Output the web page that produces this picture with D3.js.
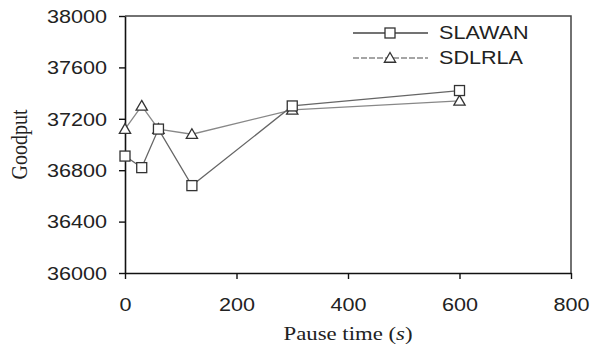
<!DOCTYPE html>
<html>
<head>
<meta charset="utf-8">
<script src="https://cdn.jsdelivr.net/npm/d3@7"></script>
<style>
  body { margin: 0; background: #fff; }
  svg { display: block; }
</style>
</head>
<body>
<div id="chart"></div>
<script>
// data
const pauseTimes = [0, 30, 60, 120, 300, 600];
const slawan = [36910, 36820, 37120, 36680, 37300, 37420];
const sdlrla = [37120, 37300, 37120, 37080, 37270, 37340];
const xTicks = [0, 200, 400, 600, 800];
const yTicks = [36000, 36400, 36800, 37200, 37600, 38000];
const seriesNames = ['SLAWAN', 'SDLRLA'];

const W = 597, H = 347;
const margin = { top: 16, right: 26, bottom: 74, left: 125 };
const width = W - margin.left - margin.right;
const height = H - margin.top - margin.bottom;
const sx = 1.2; // the reference text is stretched sideways

const svg = d3.select('#chart').append('svg')
  .attr('width', W)
  .attr('height', H);

const g = svg.append('g')
  .attr('transform', 'translate(' + margin.left + ',' + margin.top + ')');

const x = d3.scaleLinear().domain([0, 800]).range([0, width]);
const y = d3.scaleLinear().domain([36000, 38000]).range([height, 0]);

// frame on top and right
g.append('path')
  .attr('d', 'M0,0H' + width + 'V' + height)
  .attr('fill', 'none')
  .attr('stroke', '#444')
  .attr('stroke-width', 1.5);

// X axis
const xAxis = g.append('g')
  .attr('transform', 'translate(0,' + height + ')')
  .call(d3.axisBottom(x).tickValues(xTicks).tickFormat(d3.format('d')).tickSize(6).tickSizeOuter(0));
xAxis.selectAll('text')
  .attr('y', 0)
  .attr('dy', 0)
  .attr('transform', 'translate(0,38) scale(' + sx + ',1)');

// Y axis
const yAxis = g.append('g')
  .call(d3.axisLeft(y).tickValues(yTicks).tickFormat(d3.format('d')).tickSize(6).tickSizeOuter(0));
yAxis.selectAll('text')
  .attr('x', 0)
  .attr('dy', '0.35em')
  .attr('transform', 'translate(-18,0) scale(' + sx + ',1)');

[xAxis, yAxis].forEach(a => {
  a.select('.domain').attr('stroke', '#111').attr('stroke-width', 1.6);
  a.selectAll('line').attr('stroke', '#111').attr('stroke-width', 1.4);
  a.selectAll('text')
    .attr('fill', '#222')
    .style('font-family', '"Liberation Sans", Arial, sans-serif')
    .style('font-size', '18px');
});

// series
const rows = pauseTimes.map((t, i) => ({ t, a: slawan[i], b: sdlrla[i] }));

const line = key => d3.line().x(d => x(d.t)).y(d => y(d[key]));

g.append('path').datum(rows)
  .attr('d', line('b'))
  .attr('fill', 'none').attr('stroke', '#888').attr('stroke-width', 1.3);
g.append('path').datum(rows)
  .attr('d', line('a'))
  .attr('fill', 'none').attr('stroke', '#666').attr('stroke-width', 1.3);

const tri = d3.symbol().type(d3.symbolTriangle).size(55);

function square(sel, cx, cy) {
  sel.append('rect')
    .attr('x', cx - 5).attr('y', cy - 5)
    .attr('width', 10).attr('height', 10)
    .attr('fill', '#fff').attr('stroke', '#333').attr('stroke-width', 1.3);
}
function triangle(sel, cx, cy) {
  sel.append('path')
    .attr('d', tri())
    .attr('transform', 'translate(' + cx + ',' + (cy + 1) + ')')
    .attr('fill', '#fff').attr('stroke', '#333').attr('stroke-width', 1.3);
}

rows.forEach(d => triangle(g, x(d.t), y(d.b)));
rows.forEach(d => square(g, x(d.t), y(d.a)));

// legend
const legend = svg.append('g');
const legendY = [33, 58];
seriesNames.forEach((name, i) => {
  const ly = legendY[i];
  legend.append('line')
    .attr('x1', 353).attr('x2', 428).attr('y1', ly).attr('y2', ly)
    .attr('stroke', i === 0 ? '#444' : '#888')
    .attr('stroke-width', 1.3)
    .attr('stroke-dasharray', i === 0 ? null : '6,2');
  if (i === 0) square(legend, 390, ly);
  else triangle(legend, 390, ly);
  legend.append('text')
    .attr('transform', 'translate(439,' + ly + ') scale(' + sx + ',1)')
    .attr('dy', '0.35em')
    .attr('fill', '#222')
    .style('font-family', '"Liberation Sans", Arial, sans-serif')
    .style('font-size', '18px')
    .text(name);
});

// axis titles
svg.append('text')
  .attr('transform', 'translate(' + (margin.left + width / 2) + ',340) scale(' + sx + ',1)')
  .attr('text-anchor', 'middle')
  .attr('fill', '#222')
  .style('font-family', '"Liberation Serif", "Times New Roman", serif')
  .style('font-size', '19px')
  .html('Pause time (<tspan font-style="italic">s</tspan>)');

svg.append('text')
  .attr('transform', 'translate(27,' + (margin.top + height / 2) + ') rotate(-90) scale(1,' + sx + ')')
  .attr('text-anchor', 'middle')
  .attr('fill', '#222')
  .style('font-family', '"Liberation Serif", "Times New Roman", serif')
  .style('font-size', '20px')
  .text('Goodput');
</script>
</body>
</html>
